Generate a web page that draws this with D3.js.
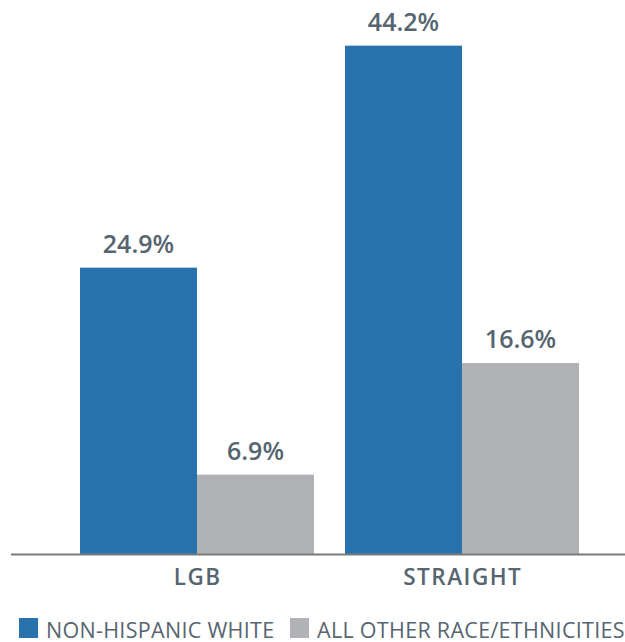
<!DOCTYPE html>
<html>
<head>
<meta charset="utf-8">
<script src="https://cdn.jsdelivr.net/npm/d3@7"></script>
<style>
  html, body { margin: 0; padding: 0; background: #fff; }
  svg { display: block; font-family: "Open Sans", sans-serif; }
</style>
</head>
<body>
<svg id="chart" width="625" height="642"></svg>
<script>
const categories = ["LGB", "STRAIGHT"];
const seriesNames = ["NON-HISPANIC WHITE", "ALL OTHER RACE/ETHNICITIES"];
const nonHispanicWhite = [24.9, 44.2];
const allOther = [6.9, 16.6];
const seriesColors = ["#2873ae", "#b0b2b5"];

const svg = d3.select("#chart");
const textColor = "#56656f";
const baseline = 554;

const x0 = d3.scaleBand().domain(categories).range([80, 579]).paddingInner(0.117).paddingOuter(0);
const x1 = d3.scaleBand().domain(seriesNames).range([0, x0.bandwidth()]).padding(0);
const y = d3.scaleLinear().domain([0, 48.17]).range([baseline, 0]);

const data = categories.map((c, i) => ({
  cat: c,
  values: [
    { key: seriesNames[0], v: nonHispanicWhite[i], color: seriesColors[0] },
    { key: seriesNames[1], v: allOther[i], color: seriesColors[1] }
  ]
}));

const g = svg.selectAll("g.grp").data(data).enter().append("g")
  .attr("class", "grp")
  .attr("transform", d => `translate(${x0(d.cat)},0)`);

g.selectAll("rect").data(d => d.values).enter().append("rect")
  .attr("x", d => x1(d.key))
  .attr("width", x1.bandwidth())
  .attr("y", d => y(d.v))
  .attr("height", d => baseline - y(d.v))
  .attr("fill", d => d.color);

g.selectAll("text.val").data(d => d.values).enter().append("text")
  .attr("class", "val")
  .attr("x", d => x1(d.key) + x1.bandwidth() / 2)
  .attr("y", d => y(d.v) - 15)
  .attr("text-anchor", "middle")
  .attr("font-size", 25)
  .attr("font-weight", 600)
  .attr("fill", textColor)
  .text(d => d.v.toFixed(1) + "%");

// axis
const axis = d3.axisBottom(x0).tickSize(0).tickPadding(15);
const ax = svg.append("g").attr("transform", `translate(0,${baseline})`).call(axis);
ax.select(".domain").remove();
ax.selectAll("text")
  .attr("font-size", 22.5)
  .attr("font-weight", 600)
  .attr("letter-spacing", 1.5)
  .attr("dx", 0.75)
  .attr("fill", textColor)
  .attr("font-family", "Open Sans, sans-serif");
svg.append("line")
  .attr("x1", 11).attr("x2", 625)
  .attr("y1", baseline + 0.5).attr("y2", baseline + 0.5)
  .attr("stroke", "#7a7a7a").attr("stroke-width", 2);

// legend
const legendX = [19, 290];
const lg = svg.selectAll("g.leg").data(seriesNames).enter().append("g")
  .attr("class", "leg")
  .attr("transform", (d, i) => `translate(${legendX[i]},618)`);
lg.append("rect").attr("width", 19).attr("height", 20)
  .attr("fill", (d, i) => seriesColors[i]);
lg.append("text").attr("x", 27).attr("y", 20)
  .attr("font-size", 21.5)
  .attr("letter-spacing", 0.3)
  .attr("fill", textColor)
  .text(d => d);
</script>
</body>
</html>
